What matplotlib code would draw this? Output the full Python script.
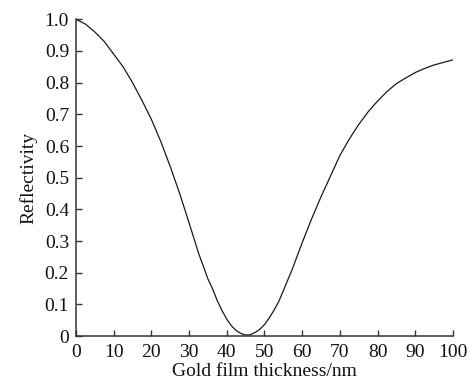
import matplotlib
matplotlib.use("Agg")
import matplotlib.pyplot as plt

# Reflectivity versus gold film thickness (denser sampling around the dip)
thickness_nm = [0, 2.5, 5, 7.5, 10, 12.5, 15, 17.5, 20, 22.5, 25, 27.5, 30, 32.5,
                35, 36.25, 37.5, 38.75, 40, 41.25, 42.5, 43.75, 45, 46.25, 47.5,
                48.75, 50, 51.25, 52.5, 53.75, 55, 57.5, 60, 62.5, 65,
                67.5, 70, 72.5, 75, 77.5, 80, 82.5, 85, 87.5, 90, 92.5, 95, 97.5, 100]
reflectivity = [1.000, 0.985, 0.960, 0.930, 0.890, 0.850, 0.800, 0.744, 0.684,
                0.614, 0.535, 0.450, 0.357, 0.262,
                0.180, 0.148, 0.111, 0.080, 0.053, 0.032, 0.017, 0.008, 0.003,
                0.004, 0.011, 0.021, 0.036, 0.057, 0.081, 0.108, 0.143,
                0.215, 0.295, 0.370, 0.440,
                0.505, 0.570, 0.622, 0.668, 0.708, 0.742, 0.772, 0.797, 0.815,
                0.832, 0.845, 0.856, 0.864, 0.872]

x_ticks = [0, 10, 20, 30, 40, 50, 60, 70, 80, 90, 100]
x_tick_labels = ["0", "10", "20", "30", "40", "50", "60", "70", "80", "90", "100"]
y_ticks = [0, 0.1, 0.2, 0.3, 0.4, 0.5, 0.6, 0.7, 0.8, 0.9, 1.0]
y_tick_labels = ["0", "0.1", "0.2", "0.3", "0.4", "0.5", "0.6", "0.7", "0.8", "0.9", "1.0"]

plt.rcParams["font.family"] = ["Liberation Serif", "DejaVu Serif"]

fig = plt.figure(figsize=(4.7, 3.82), dpi=100)
ax = fig.add_axes([0.1617, 0.1204, 0.8021, 0.829])

ax.plot(thickness_nm, reflectivity, color="#1a1a1a", linewidth=0.9)

ax.set_xlim(0, 100)
ax.set_ylim(0, 1.0)
ax.set_xticks(x_ticks)
ax.set_xticklabels(x_tick_labels)
ax.set_yticks(y_ticks)
ax.set_yticklabels(y_tick_labels)

for side in ("top", "right"):
    ax.spines[side].set_visible(False)
for side in ("left", "bottom"):
    ax.spines[side].set_linewidth(1.1)
    ax.spines[side].set_color("#333333")

ax.tick_params(direction="in", length=4, width=1.0, color="#333333",
               labelsize=14, labelcolor="#111111")
ax.tick_params(axis="x", pad=5.5)
ax.tick_params(axis="y", pad=5)

ax.set_xlabel("Gold film thickness/nm", fontsize=14, color="#111111", labelpad=2)
ax.set_ylabel("Reflectivity", fontsize=14, color="#111111", labelpad=5)

fig.savefig("out.png", dpi=100, facecolor="white")
